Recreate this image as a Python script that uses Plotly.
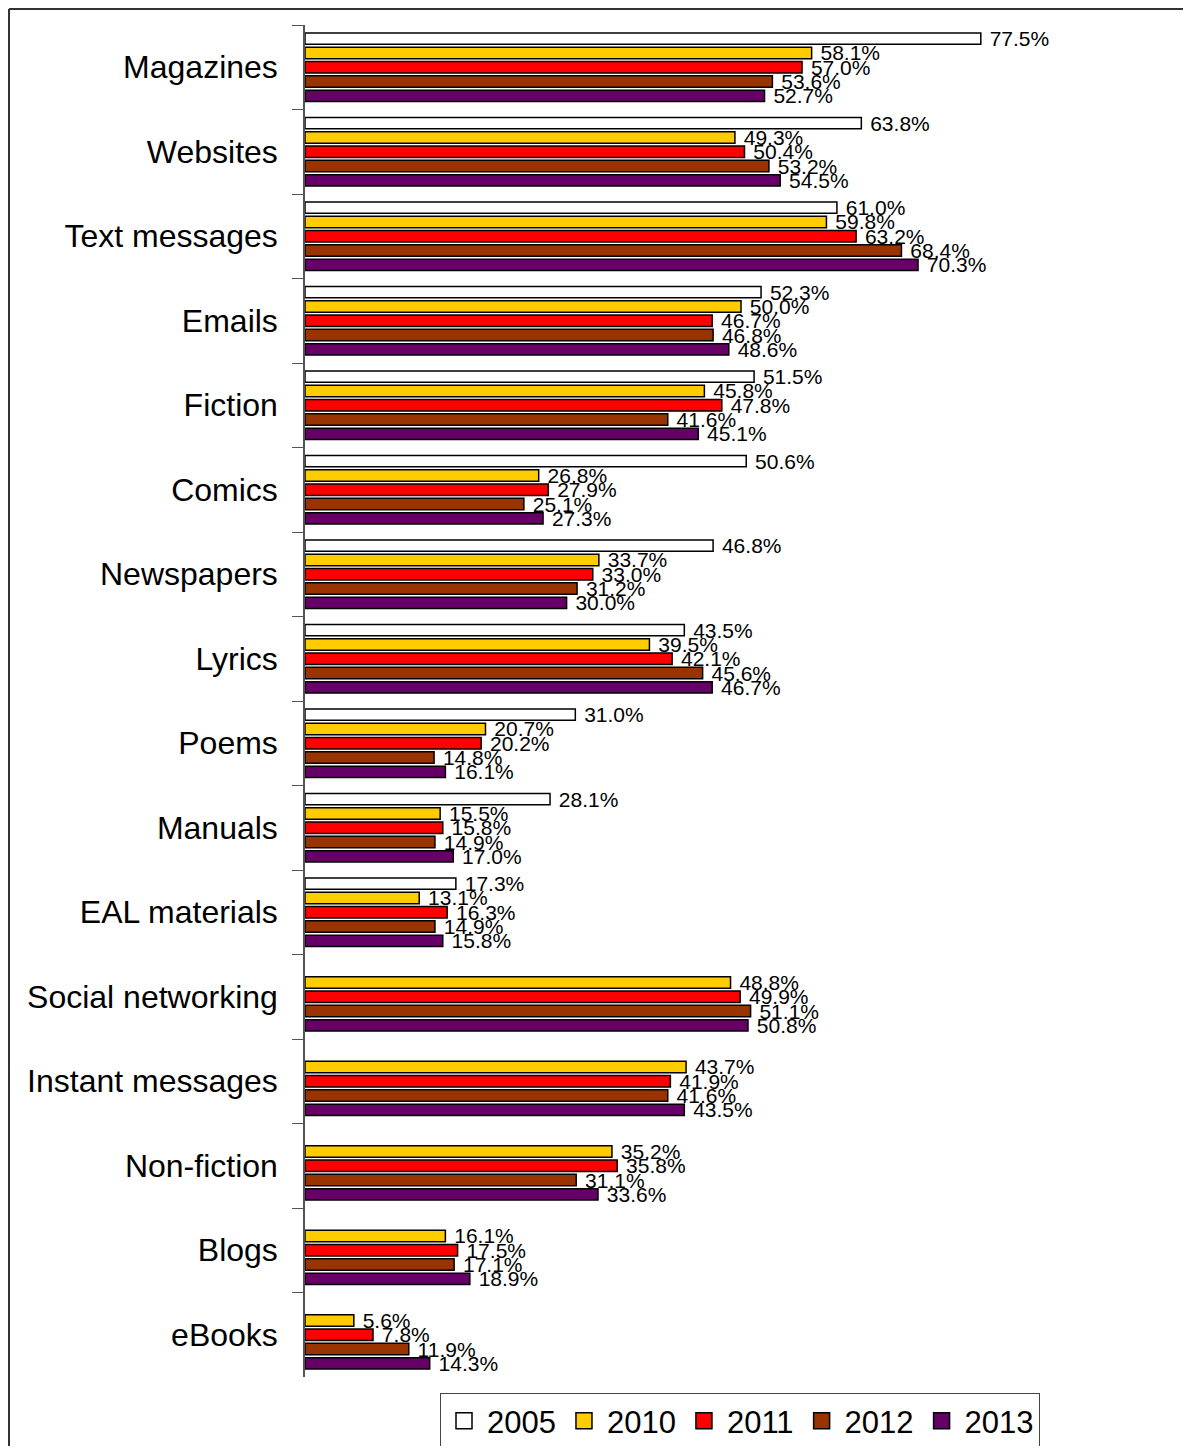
import plotly.graph_objects as go

categories = ["Magazines", "Websites", "Text messages", "Emails", "Fiction", "Comics",
              "Newspapers", "Lyrics", "Poems", "Manuals", "EAL materials",
              "Social networking", "Instant messages", "Non-fiction", "Blogs", "eBooks"]

years = ["2005", "2010", "2011", "2012", "2013"]

v2005 = [77.5, 63.8, 61.0, 52.3, 51.5, 50.6, 46.8, 43.5, 31.0, 28.1, 17.3,
         None, None, None, None, None]
v2010 = [58.1, 49.3, 59.8, 50.0, 45.8, 26.8, 33.7, 39.5, 20.7, 15.5, 13.1,
         48.8, 43.7, 35.2, 16.1, 5.6]
v2011 = [57.0, 50.4, 63.2, 46.7, 47.8, 27.9, 33.0, 42.1, 20.2, 15.8, 16.3,
         49.9, 41.9, 35.8, 17.5, 7.8]
v2012 = [53.6, 53.2, 68.4, 46.8, 41.6, 25.1, 31.2, 45.6, 14.8, 14.9, 14.9,
         51.1, 41.6, 31.1, 17.1, 11.9]
v2013 = [52.7, 54.5, 70.3, 48.6, 45.1, 27.3, 30.0, 46.7, 16.1, 17.0, 15.8,
         50.8, 43.5, 33.6, 18.9, 14.3]

series = [v2005, v2010, v2011, v2012, v2013]
colors = ["#FFFFFF", "#FFCC00", "#FF0000", "#993300", "#660066"]

# page is offset by the 8px body margin
W, H = 1183, 1438
L, R, T, B = 297, 14, 17, 69
pw, ph = W - L - R, H - T - B

fig = go.Figure()

for year, vals, col in zip(years, series, colors):
    fig.add_trace(go.Bar(
        y=categories,
        x=vals,
        name=year,
        orientation="h",
        marker=dict(color=col, line=dict(color="black", width=1.5)),
        texttemplate=" %{x:.1f}%",
        textposition="outside",
        textfont=dict(size=21, color="black"),
        constraintext="none",
        cliponaxis=False,
        showlegend=False,
    ))

# legend entries with bigger square swatches
for year, col in zip(years, colors):
    fig.add_trace(go.Scatter(
        x=[None], y=[None], mode="markers", name=year,
        marker=dict(symbol="square", size=16, color=col,
                    line=dict(color="black", width=1.5)),
    ))

# frame: only left and top edges are inside the page
fx0 = -(L - 1) / pw
fy1 = 1 + (T - 1) / ph
frame = [
    dict(type="line", xref="paper", yref="paper", x0=fx0, x1=fx0, y0=-0.2, y1=fy1,
         line=dict(color="#333", width=2)),
    dict(type="line", xref="paper", yref="paper", x0=fx0, x1=1.2, y0=fy1, y1=fy1,
         line=dict(color="#333", width=2)),
]

fig.update_layout(
    width=W,
    height=H,
    margin=dict(l=L, r=R, t=T, b=B, autoexpand=False),
    paper_bgcolor="white",
    plot_bgcolor="white",
    font=dict(family="Liberation Sans, Arial, sans-serif", color="black"),
    barmode="group",
    bargap=0.154,
    bargroupgap=0.2,
    showlegend=True,
    legend=dict(
        orientation="h",
        x=(740 - 8 - L) / pw, xanchor="center",
        y=-(1393 - 8 - (H - B)) / ph, yanchor="top",
        font=dict(size=31),
        bordercolor="#444",
        borderwidth=1,
        traceorder="normal",
        itemwidth=36,
    ),
    shapes=frame,
)

fig.update_xaxes(range=[0, 100], showgrid=False, zeroline=False,
                 showticklabels=False, showline=False, ticks="")
fig.update_yaxes(autorange="reversed", tickson="boundaries", ticks="outside",
                 ticklen=11, tickcolor="#555", showline=True, linecolor="#555",
                 linewidth=1.5, showgrid=False, tickfont=dict(size=32),
                 ticklabelstandoff=19)

fig.write_html("out.html")
